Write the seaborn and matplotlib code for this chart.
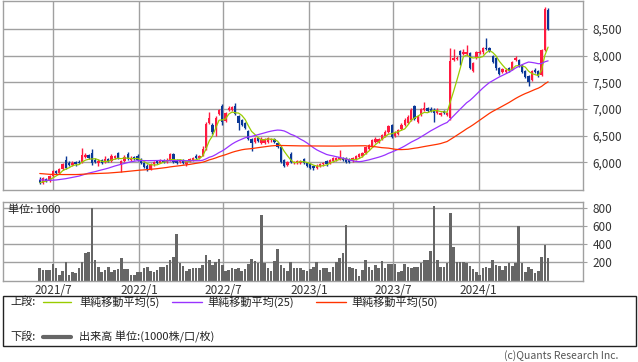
import matplotlib
matplotlib.use("Agg")
import matplotlib.pyplot as plt
import matplotlib.dates as mdates
from matplotlib.lines import Line2D
from matplotlib.patches import Rectangle
from matplotlib.ticker import FuncFormatter, FixedLocator
import numpy as np
import pandas as pd
import seaborn as sns

# weekly candles, June 2021 - May 2024
dates = pd.date_range("2021-06-02", periods=157, freq="7D")

opens = [5660, 5620, 5690, 5650, 5740, 5840, 5800, 5880, 6050, 5990,
         5950, 6000, 6010, 5990, 6100, 6140, 6180, 6050, 5990, 6040,
         6000, 6060, 6020, 6080, 6180, 5960, 6020, 6160, 6040, 6100,
         6110, 6070, 5990, 5940, 5880, 5960, 6020, 5990, 6050, 6000,
         6030, 6150, 6030, 6000, 6050, 5960, 6010, 6040, 6110, 6080,
         6120, 6260, 6740, 6700, 6620, 6900, 7060, 6780, 6990, 6990,
         7060, 6860, 6800, 6730, 6580, 6440, 6390, 6450, 6360, 6370,
         6380, 6410, 6440, 6370, 6290, 6040, 5950, 6150, 5990, 5980,
         5990, 6060, 5990, 5960, 5940, 5890, 5930, 5960, 6020, 5990,
         6030, 6040, 6060, 6080, 6080, 6060, 6030, 6060, 6100, 6120,
         6170, 6250, 6300, 6380, 6380, 6440, 6490, 6570, 6700, 6490,
         6530, 6620, 6700, 6740, 6800, 7060, 6760, 6880, 6990, 7010,
         7000, 6990, 6930, 6880, 6970, 6880, 6830, 7920, 7930, 8080,
         8030, 8030, 8050, 7720, 7950, 8050, 8060, 8150, 8150, 8000,
         7950, 7760, 7700, 7700, 7770, 7750, 7920, 7920, 7830, 7720,
         7620, 7550, 7740, 7720, 7630, 8100, 8850]
closes = [5620, 5700, 5650, 5740, 5830, 5800, 5880, 5960, 5900, 5950,
          5990, 5960, 5980, 6140, 6130, 6080, 5990, 6000, 6030, 5990,
          6060, 6020, 6110, 6110, 6080, 6020, 6100, 6070, 6090, 6060,
          6040, 5980, 5920, 5880, 5960, 6010, 5990, 6040, 6010, 6050,
          6150, 6010, 5990, 6040, 5990, 6010, 6070, 6080, 6080, 6110,
          6250, 6720, 6840, 6560, 6840, 6980, 6760, 6920, 7020, 7030,
          6910, 6740, 6700, 6650, 6440, 6370, 6460, 6400, 6440, 6440,
          6450, 6430, 6380, 6280, 6010, 5940, 6010, 6000, 6010, 6030,
          6030, 5980, 5940, 5900, 5890, 5940, 5970, 5990, 5960, 6050,
          6080, 6080, 6100, 6050, 6010, 6000, 6080, 6110, 6150, 6180,
          6280, 6330, 6420, 6440, 6440, 6520, 6560, 6680, 6480, 6550,
          6600, 6700, 6800, 6850, 6990, 6820, 6860, 7000, 7010, 6960,
          6960, 6920, 6990, 6930, 6930, 6930, 7900, 7960, 7960, 8020,
          8060, 8060, 7770, 7870, 8060, 8070, 8150, 8120, 8080, 7880,
          7760, 7650, 7750, 7740, 7710, 7880, 7950, 7800, 7700, 7600,
          7500, 7720, 7700, 7620, 8100, 8880, 8500]
highs = [5720, 5720, 5710, 5760, 5850, 5860, 5900, 5990, 6120, 6020,
         6020, 6030, 6040, 6260, 6170, 6160, 6250, 6080, 6070, 6070,
         6110, 6080, 6150, 6140, 6200, 6050, 6130, 6200, 6110, 6120,
         6150, 6090, 6010, 5960, 5980, 6030, 6040, 6060, 6070, 6080,
         6180, 6170, 6060, 6060, 6070, 6030, 6090, 6100, 6150, 6130,
         6300, 6750, 6940, 6730, 6870, 7000, 7100, 6950, 7050, 7060,
         7110, 6880, 6820, 6750, 6600, 6460, 6480, 6470, 6470, 6460,
         6470, 6450, 6460, 6390, 6310, 6060, 6030, 6200, 6030, 6050,
         6050, 6080, 6010, 5980, 5950, 5960, 5990, 6010, 6040, 6070,
         6100, 6100, 6240, 6100, 6100, 6080, 6100, 6130, 6170, 6200,
         6300, 6350, 6440, 6470, 6460, 6540, 6600, 6700, 6720, 6580,
         6620, 6730, 6830, 6880, 7010, 7080, 6880, 7020, 7130, 7040,
         7030, 7010, 7010, 6950, 6990, 6950, 8140, 8130, 7990, 8100,
         8130, 8200, 8070, 7890, 8080, 8100, 8170, 8330, 8170, 8020,
         7970, 7780, 7770, 7760, 7790, 7900, 8000, 7940, 7850, 7740,
         7640, 7740, 7760, 7740, 8130, 8920, 8900]
lows = [5590, 5600, 5630, 5640, 5720, 5780, 5790, 5860, 5870, 5930,
        5930, 5940, 5960, 5980, 6080, 6060, 5950, 5980, 5940, 5970,
        5990, 6000, 6010, 6060, 6060, 5820, 6000, 6050, 6020, 6040,
        6020, 5960, 5900, 5830, 5860, 5940, 5970, 5980, 5990, 5990,
        6020, 5990, 5970, 5980, 5970, 5940, 6000, 6030, 6060, 6070,
        6110, 6230, 6720, 6530, 6500, 6880, 6700, 6760, 6970, 6970,
        6890, 6600, 6680, 6630, 6420, 6210, 6370, 6380, 6340, 6350,
        6360, 6390, 6360, 6260, 5990, 5920, 5930, 5980, 5970, 5960,
        5970, 5960, 5920, 5880, 5860, 5870, 5910, 5940, 5940, 5970,
        6010, 6020, 6040, 6030, 5990, 5980, 6010, 6040, 6080, 6100,
        6150, 6230, 6280, 6360, 6360, 6420, 6470, 6550, 6460, 6470,
        6510, 6600, 6680, 6720, 6780, 6800, 6740, 6860, 6970, 6940,
        6940, 6760, 6910, 6860, 6910, 6860, 6800, 7900, 7910, 7830,
        8010, 8010, 7750, 7700, 7930, 8030, 8040, 8100, 8060, 7860,
        7740, 7630, 7680, 7680, 7690, 7730, 7900, 7780, 7680, 7580,
        7440, 7530, 7680, 7600, 7610, 8080, 8480]
volumes = [135, 117, 117, 117, 180, 135, 61, 106, 202, 61,
           98, 80, 143, 202, 309, 320, 802, 228, 154, 98,
           117, 147, 98, 117, 124, 246, 124, 124, 61, 61,
           98, 98, 135, 154, 110, 98, 117, 154, 154, 172,
           228, 265, 517, 191, 165, 110, 124, 135, 135, 135,
           172, 283, 228, 172, 209, 235, 172, 106, 117, 135,
           124, 135, 110, 124, 184, 235, 220, 198, 727, 191,
           135, 106, 217, 350, 172, 135, 106, 202, 135, 143,
           135, 117, 110, 124, 154, 202, 117, 143, 135, 98,
           154, 209, 246, 309, 616, 154, 135, 124, 50, 117,
           228, 150, 120, 170, 135, 217, 143, 184, 180, 184,
           98, 110, 180, 154, 135, 154, 154, 191, 228, 228,
           328, 820, 228, 154, 154, 198, 753, 376, 202, 202,
           202, 191, 165, 124, 98, 61, 135, 154, 135, 228,
           172, 165, 117, 161, 198, 165, 198, 605, 190, 90,
           150, 125, 80, 100, 255, 395, 245]
# weekly closes before the first visible candle (feed the moving averages)
prior_closes = [5950, 5980, 5920, 5900, 5960, 5940, 5880, 5910, 5970, 5990,
                5930, 5890, 5920, 5950, 5900, 5870, 5910, 5940, 5880, 5860,
                5900, 5890, 5850, 5820, 5800, 5780, 5760, 5790, 5740, 5720,
                5700, 5730, 5690, 5660, 5700, 5680, 5650, 5670, 5640, 5620,
                5660, 5640, 5600, 5620, 5650, 5610, 5590, 5630, 5640]

tick_dates = ["2021-07-01", "2022-01-01", "2022-07-01", "2023-01-01",
              "2023-07-01", "2024-01-01"]
ma_windows = [5, 25, 50]
ma_colors = ["#99cc00", "#9933ff", "#ff3300"]
ma_labels = ["単純移動平均(5)", "単純移動平均(25)", "単純移動平均(50)"]

RED = "#ff1a40"
BLUE = "#0a3796"
GRID = "#a0a0a0"
TXT = "#333333"

sns.set_style("white")
plt.rcParams["font.family"] = ["Noto Sans CJK JP", "DejaVu Sans"]

W, H = 638, 362
fig = plt.figure(figsize=(W / 100, H / 100), dpi=100)


def box(x0, y0, x1, y1):
    return [x0 / W, 1 - y1 / H, (x1 - x0) / W, (y1 - y0) / H]


def fy(y):
    return 1 - y / H


ax = fig.add_axes(box(3, 0.5, 583, 190))
axv = fig.add_axes(box(3, 201.7, 583, 280.5), sharex=ax)

x = mdates.date2num(dates)
o = np.array(opens, float)
c = np.array(closes, float)
cols = np.where(c >= o, RED, BLUE)

# candles
ax.vlines(x, lows, highs, colors=cols, lw=1, zorder=2)
ax.bar(x, np.maximum(np.abs(c - o), 12), bottom=np.minimum(o, c),
       width=5, color=cols, lw=0, zorder=3)

# moving averages
allc = pd.Series(prior_closes + closes, dtype=float)
n = len(closes)
for k, col in zip(ma_windows, ma_colors):
    ma = allc.rolling(k).mean().iloc[-n:].to_numpy()
    sns.lineplot(x=x, y=ma, color=col, lw=0.9, ax=ax, zorder=4)

# volume
axv.bar(x, volumes, width=5.6, color="#666666", lw=0, zorder=2)

for a in (ax, axv):
    a.set_xlim(mdates.datestr2num("2021-03-15"), mdates.datestr2num("2024-08-12"))
    a.set_xlabel("")
    a.set_ylabel("")
    a.grid(True, color=GRID, lw=1)
    a.set_axisbelow(True)
    for s in a.spines.values():
        s.set_color(GRID)
        s.set_linewidth(1)
    a.yaxis.tick_right()
    a.tick_params(axis="y", length=3, color=GRID, pad=4,
                  labelsize=8.5, labelcolor=TXT)

ax.xaxis.set_major_locator(FixedLocator(mdates.datestr2num(tick_dates)))
axv.xaxis.set_major_formatter(FuncFormatter(
    lambda v, p: f"{mdates.num2date(v).year}/{mdates.num2date(v).month}"))
ax.tick_params(axis="x", length=0, labelbottom=False)
axv.tick_params(axis="x", length=0, pad=2.5, labelsize=8.5, labelcolor=TXT)

ax.set_ylim(5481, 9034)
ax.yaxis.set_major_locator(FixedLocator([6000, 6500, 7000, 7500, 8000, 8500]))
ax.yaxis.set_major_formatter(FuncFormatter(lambda v, p: f"{v:,.0f}"))

axv.set_ylim(0, 873)
axv.yaxis.set_major_locator(FixedLocator([200, 400, 600, 800]))
fig.text(8 / W, fy(209.5), "単位: 1000", fontsize=8, color="#222222",
         va="center", ha="left")

# legend box
fig.add_artist(Rectangle((3 / W, fy(346)), 633 / W, 50 / H,
                         transform=fig.transFigure, fill=False,
                         edgecolor="#222222", lw=1))

fig.text(10 / W, fy(302), "上段:", fontsize=8, color="#222222", va="center")
line_x = [(43, 71), (172, 202), (316, 346)]
text_x = [79, 207, 351]
for (x0, x1), tx, col, lab in zip(line_x, text_x, ma_colors, ma_labels):
    fig.add_artist(Line2D([x0 / W, x1 / W], [fy(302), fy(302)],
                          transform=fig.transFigure, color=col, lw=1))
    fig.text(tx / W, fy(302), lab, fontsize=8, color="#222222", va="center")

fig.text(10 / W, fy(337), "下段:", fontsize=8, color="#222222", va="center")
fig.add_artist(Line2D([43 / W, 71 / W], [fy(337), fy(337)],
                      transform=fig.transFigure, color="#666666", lw=3))
fig.text(79 / W, fy(337), "出来高 単位:(1000株/口/枚)", fontsize=8,
         color="#222222", va="center")

fig.text(618 / W, fy(356), "(c)Quants Research Inc.", fontsize=7.5,
         color="#555555", va="center", ha="right")

fig.savefig("out.png", dpi=100)
